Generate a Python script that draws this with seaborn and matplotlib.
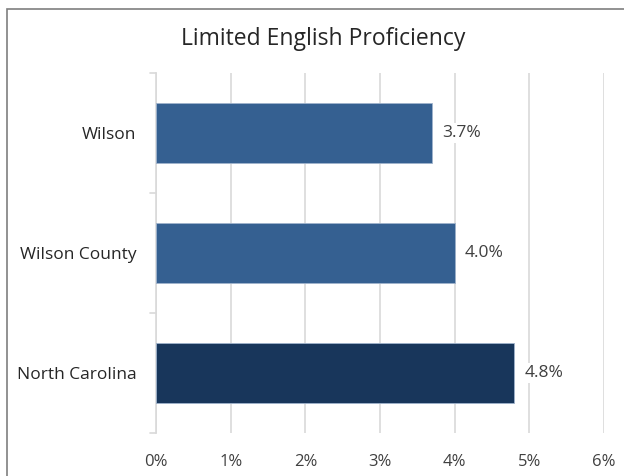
import matplotlib
matplotlib.use("Agg")
import matplotlib.pyplot as plt
from matplotlib.patches import Rectangle
import seaborn as sns
import pandas as pd

categories = ["Wilson", "Wilson County", "North Carolina"]
values = [3.7, 4.0, 4.8]
value_labels = ["3.7%", "4.0%", "4.8%"]
bar_colors = ["#356091", "#356091", "#18365B"]
x_ticks = [0, 1, 2, 3, 4, 5, 6]
x_tick_labels = ["0%", "1%", "2%", "3%", "4%", "5%", "6%"]
title = "Limited English Proficiency"

sns.set_theme(style="white")
plt.rcParams["font.family"] = ["Open Sans", "DejaVu Sans"]

df = pd.DataFrame({"category": categories, "value": values})

fig = plt.figure(figsize=(6.24, 4.76), dpi=100)
ax = fig.add_axes([0.25, 0.0903, 0.718, 0.7563])

sns.barplot(data=df, x="value", y="category", hue="category",
            palette=bar_colors, saturation=1, width=0.5, legend=False,
            ax=ax, edgecolor="#9fb3cc", linewidth=0.6, zorder=3)

ax.set_xlim(0, 6)
ax.set_ylim(2.5, -0.5)
ax.set_xticks(x_ticks)
ax.set_xticklabels(x_tick_labels, fontsize=12, color="#404040")
ax.tick_params(axis="x", length=0, pad=15)
ax.tick_params(axis="y", length=0, pad=14, labelsize=12.5, labelcolor="#262626")
ax.set_xlabel("")
ax.set_ylabel("")

ax.grid(axis="x", color="#d9d9d9", linewidth=1.2, zorder=0)
for s in ["top", "right", "bottom"]:
    ax.spines[s].set_visible(False)
ax.spines["left"].set_color("#d9d9d9")
ax.spines["left"].set_linewidth(1.2)

# small category-boundary ticks on the left spine
for yb in [-0.5, 0.5, 1.5, 2.5]:
    ax.plot([-0.08, 0], [yb, yb], color="#d9d9d9", lw=1.2,
            clip_on=False, transform=ax.transData, zorder=1)

for i, (v, lab) in enumerate(zip(values, value_labels)):
    ax.text(v + 0.13, i, lab, va="center", ha="left", fontsize=12.5,
            color="#404040", zorder=4,
            bbox=dict(facecolor="white", edgecolor="none", pad=1.5))

fig.text(0.518, 0.918, title, ha="center", va="center", fontsize=16.5,
         color="#262626")

fig.patches.append(Rectangle((7 / 624, -0.1), 1.2, 1 - 9 / 476 + 0.1,
                             transform=fig.transFigure, fill=False,
                             edgecolor="#7f7f7f", linewidth=1.2))

fig.savefig("out.png", dpi=100)
